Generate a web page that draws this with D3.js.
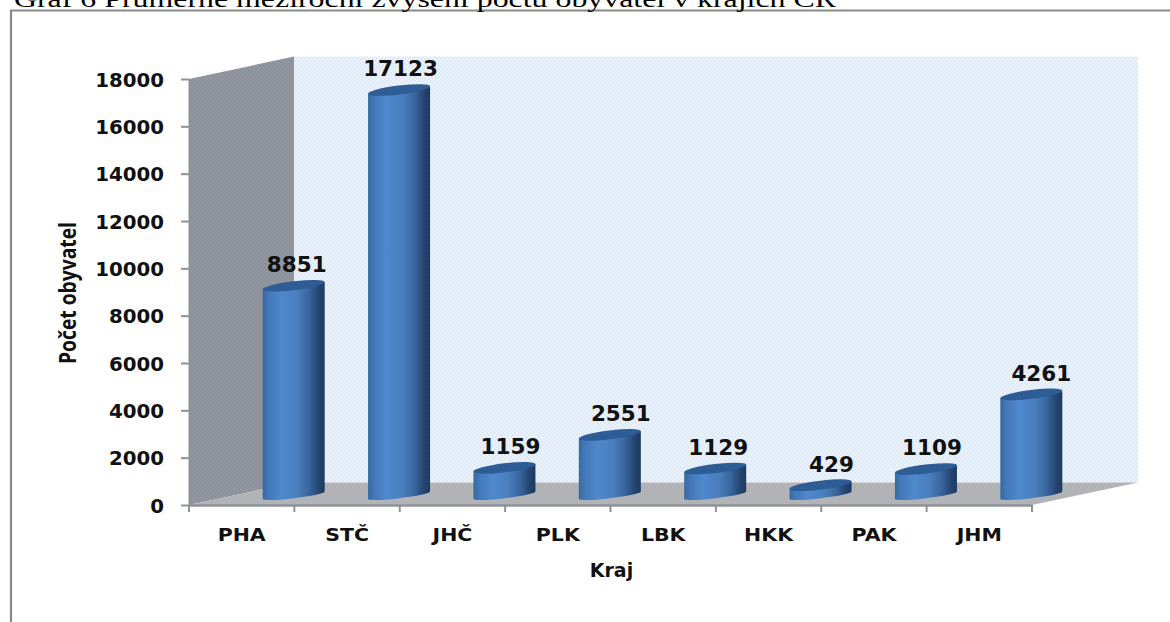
<!DOCTYPE html>
<html>
<head>
<meta charset="utf-8">
<script src="https://cdn.jsdelivr.net/npm/d3@7/dist/d3.min.js"></script>
<style>
html,body{margin:0;padding:0;background:#fff;overflow:hidden}
svg{display:block}
text{font-family:"DejaVu Sans",sans-serif;font-weight:bold;fill:#111}
</style>
</head>
<body>
<svg id="c" width="1170" height="622"></svg>
<script>
const categories = ["PHA","STČ","JHČ","PLK","LBK","HKK","PAK","JHM"];
const values = [8851,17123,1159,2551,1129,429,1109,4261];
const labelNudge = [3,1.5,6,11,3,11,6,10];
const yTicks = [0,2000,4000,6000,8000,10000,12000,14000,16000,18000];
const titleText = "Graf 6 Průměrné meziroční zvýšení počtu obyvatel v krajích ČR";
const yTitle = "Počet obyvatel";
const xTitle = "Kraj";

const svg = d3.select("#c");
const front = {left:189, right:1032, bottom:505, top:79};
const depth = {dx:105, dy:-22.5};
const x = d3.scaleBand().domain(categories).range([front.left, front.right]);
const y = d3.scaleLinear().domain([0,18000]).range([front.bottom, front.top]);
const barW = 62, tilt = 7.5;

const defs = svg.append("defs");
const grad = defs.append("linearGradient").attr("id","cyl");
[[0,"#37699f"],[.1,"#4379ba"],[.3,"#4f88cc"],[.55,"#4a7fbe"],[.75,"#38659d"],[.9,"#244570"],[1,"#1d3a60"]]
 .forEach(([o,c])=>grad.append("stop").attr("offset",o).attr("stop-color",c));
const pb = defs.append("pattern").attr("id","blueHatch").attr("width",4).attr("height",4).attr("patternUnits","userSpaceOnUse");
pb.append("rect").attr("width",4).attr("height",4).attr("fill","#dfeaf7");
pb.append("rect").attr("width",2).attr("height",2).attr("fill","#ebf2fb");
pb.append("rect").attr("x",2).attr("y",2).attr("width",2).attr("height",2).attr("fill","#ebf2fb");
const pg = defs.append("pattern").attr("id","greyHatch").attr("width",4).attr("height",4).attr("patternUnits","userSpaceOnUse");
pg.append("rect").attr("width",4).attr("height",4).attr("fill","#8c929b");
pg.append("path").attr("d","M0 0L4 4").attr("stroke","#9499a2").attr("stroke-width",1.2);

// frame
svg.append("path").attr("d","M11 622V10.5H1170").attr("fill","none").attr("stroke","#8a8a8a").attr("stroke-width",2.2);
// heading
svg.append("text").attr("x",14).attr("y",7).attr("textLength",822).attr("lengthAdjust","spacingAndGlyphs")
  .style("font-family","'Liberation Serif',serif").style("font-weight","normal").style("font-size","24px").style("fill","#000").text(titleText);

// walls
const wallTop = y(18000)+depth.dy, wallBottom = y(0)+depth.dy;
svg.append("rect").attr("x",front.left+depth.dx).attr("y",wallTop)
  .attr("width",front.right-front.left+1).attr("height",wallBottom-wallTop).attr("fill","url(#blueHatch)");
svg.append("path").attr("fill","url(#greyHatch)")
  .attr("d",d3.line()([[front.left,y(18000)],[front.left+depth.dx,wallTop],[front.left+depth.dx,wallBottom],[front.left,y(0)]])+"Z");
svg.append("path").attr("fill","#b1b3b6")
  .attr("d",d3.line()([[front.left,y(0)],[front.left+depth.dx,wallBottom],[front.right+depth.dx+1,wallBottom],[front.right,y(0)]])+"Z");

// axes
const yAxis = svg.append("g").attr("transform",`translate(${front.left},0)`)
  .call(d3.axisLeft(y).tickValues(yTicks).tickFormat(d3.format("d")).tickSize(8).tickSizeOuter(0).tickPadding(17));
yAxis.selectAll("text").style("font-size","19.8px").attr("dy","0.36em");
const xAxis = svg.append("g").attr("transform",`translate(0,${front.bottom})`)
  .call(d3.axisBottom(x).tickSize(0).tickPadding(30));
xAxis.selectAll(".tick line").remove();
xAxis.selectAll("text").style("font-size","18px").attr("dy","0.32em")
  .attr("transform","scale(1.14,1)");
svg.append("g").selectAll("line").data([...categories.map(c=>x(c)),front.right]).join("line")
  .attr("x1",d=>d).attr("x2",d=>d).attr("y1",front.bottom).attr("y2",front.bottom+7);
svg.selectAll(".domain,.tick line,g>line").attr("stroke","#8f9296").attr("stroke-width",2);
xAxis.select(".domain").attr("stroke-width",2.6);

// cylinders
const bars = svg.append("g").selectAll("g").data(values).join("g");
const rot = -Math.atan(tilt/barW)*180/Math.PI;
const rx = Math.hypot(barW,tilt)/2;
const barX = i => x(categories[i]) + x.bandwidth()/2 + depth.dx/2 - barW/2 - 0.5;
const baseY = y(0) - 6;
const hOf = v => y(0)-y(v);
bars.append("path").attr("fill","url(#cyl)")
  .attr("d",(v,i)=>{
    const a=barX(i),b=a+barW,t=baseY-hOf(v);
    return `M${a} ${t}L${a} ${baseY}A${rx} 3 ${rot} 0 0 ${b} ${baseY-tilt}L${b} ${t-tilt}Z`;
  });
bars.append("path").attr("fill","#2e5c95")
  .attr("d",(v,i)=>{
    const a=barX(i),b=a+barW,t=baseY-hOf(v);
    return `M${a} ${t}A${rx} 4.5 ${rot} 1 1 ${b} ${t-tilt}A${rx} 4.5 ${rot} 1 1 ${a} ${t}Z`;
  });
bars.append("text").attr("text-anchor","middle").style("font-size","21.5px")
  .attr("x",(v,i)=>barX(i)+barW/2+labelNudge[i])
  .attr("y",v=>baseY-hOf(v)-25).attr("dy","0.36em").text(d=>d);

// axis titles
svg.append("text").attr("transform","translate(76,293) rotate(-90)").attr("text-anchor","middle")
  .attr("textLength",142).attr("lengthAdjust","spacingAndGlyphs")
  .style("font-family","'Open Sans',sans-serif").style("font-size","24px").text(yTitle);
svg.append("text").attr("x",611.5).attr("y",570).attr("dy","0.36em").attr("text-anchor","middle")
  .style("font-size","19px").text(xTitle);
</script>
</body>
</html>
